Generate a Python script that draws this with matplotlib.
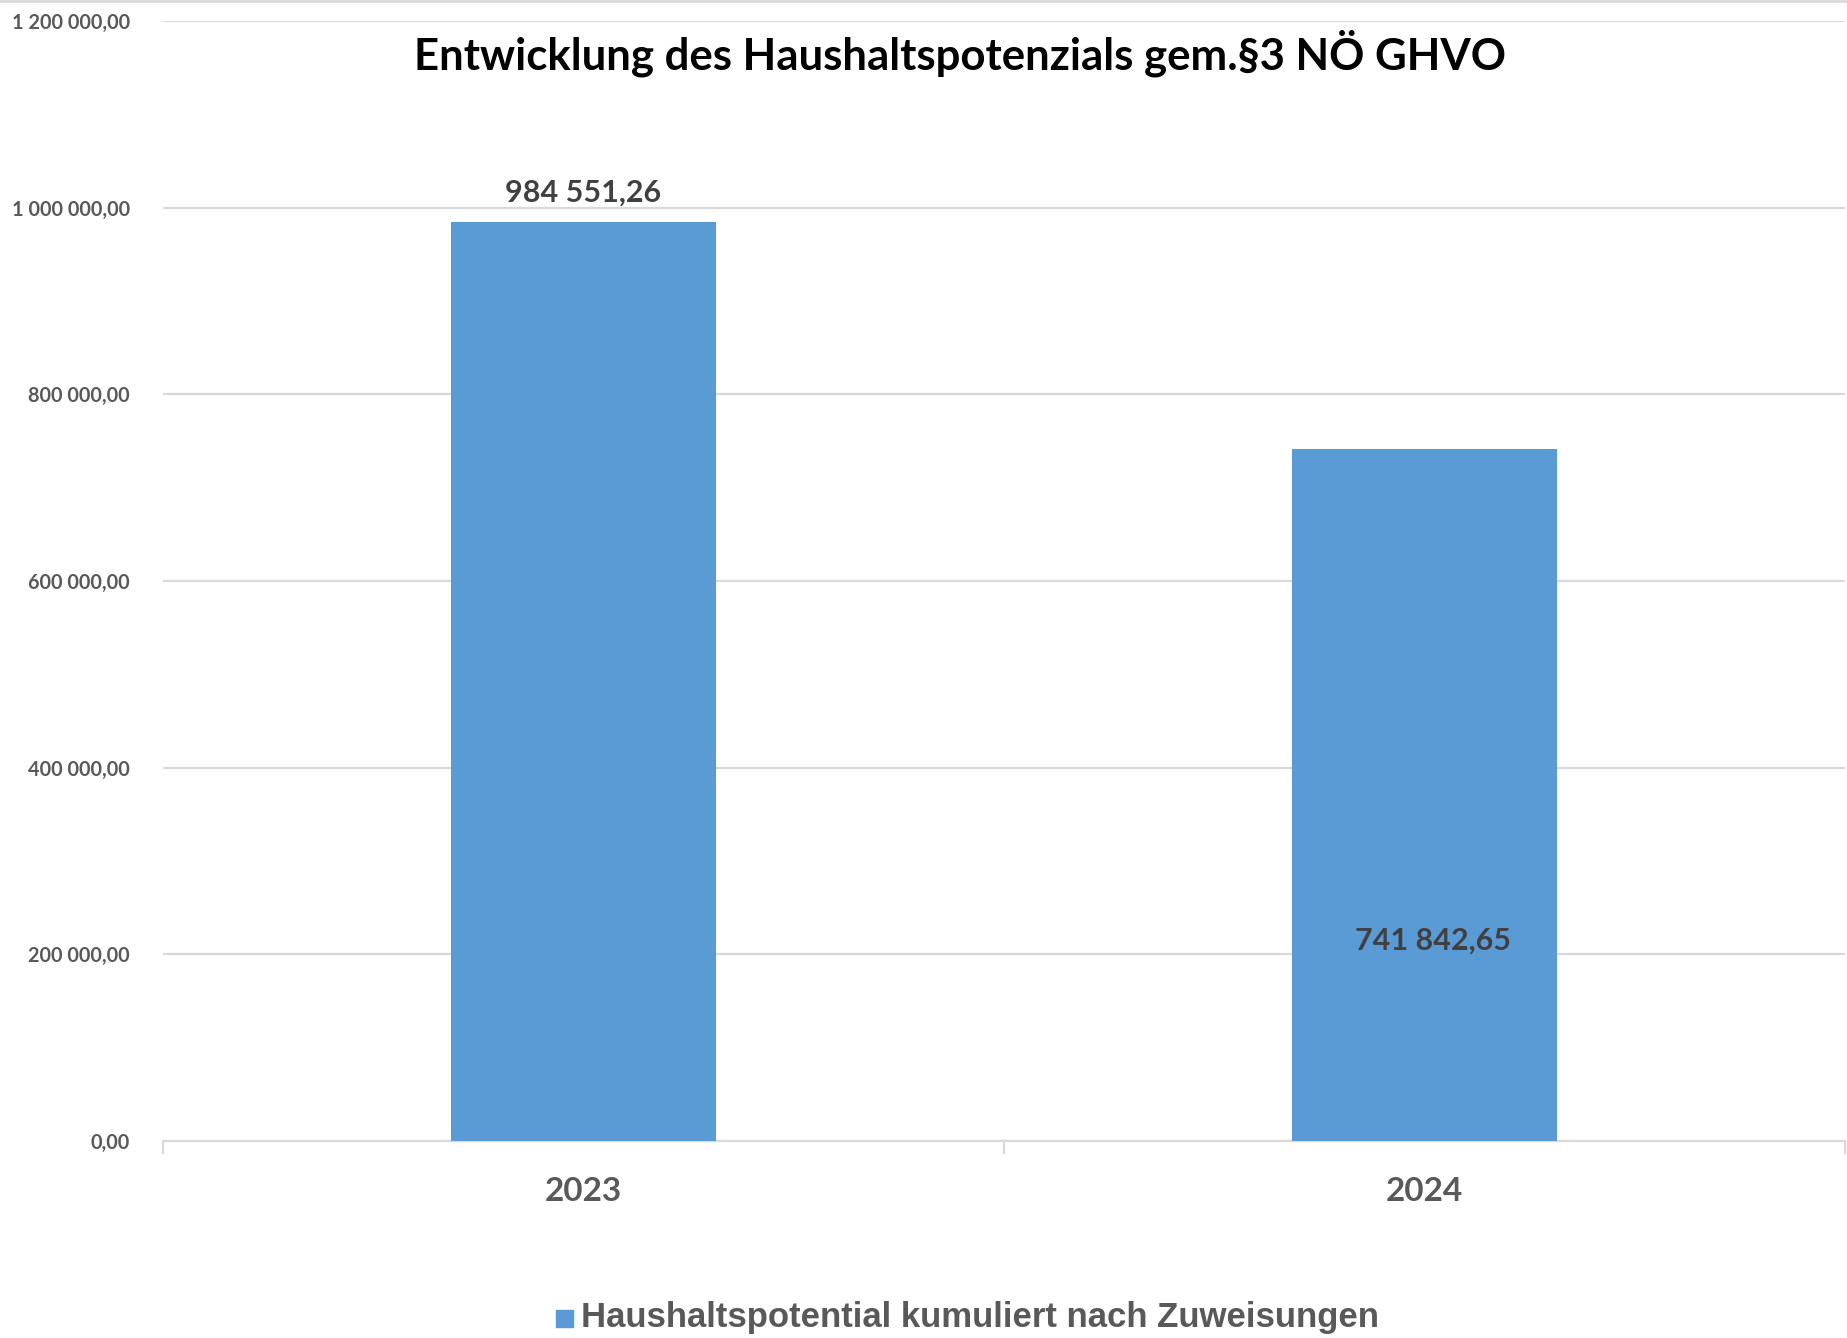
import numpy as np
import matplotlib
matplotlib.use('Agg')
import matplotlib.pyplot as plt
from matplotlib.lines import Line2D
from matplotlib.patches import Rectangle

# Data
years = ['2023', '2024']
values = [984551.26, 741842.65]
label_y = [None, 215000]  # second data label sits inside the bar
series_name = 'Haushaltspotential kumuliert nach Zuweisungen'
title = 'Entwicklung des Haushaltspotenzials gem.§3 NÖ GHVO'
y_ticks = [0, 200000, 400000, 600000, 800000, 1000000, 1200000]

bar_color = '#5B9BD5'
grid_color = '#D9D9D9'
tick_color = '#595959'
label_color = '#404040'


def fmt(v):
    # German style: space as thousands separator, comma as decimal mark
    s = f'{v:,.2f}'
    return s.replace(',', ' ').replace('.', ',')


fig = plt.figure(figsize=(18.47, 13.38), dpi=100)
ax = fig.add_axes([163 / 1847, 1 - 1141 / 1338, 1682 / 1847, 1120 / 1338])

x = np.arange(len(years))
ax.bar(x, values, width=0.314, color=bar_color, zorder=3)

ax.set_xlim(-0.5, 1.5)
ax.set_ylim(0, 1200000)
ax.set_yticks(y_ticks)
ax.set_yticklabels([fmt(v) for v in y_ticks], fontfamily='Lato', fontweight='bold',
                   fontsize=14.3, color=tick_color)
ax.yaxis.grid(True, color=grid_color, linewidth=1.6, zorder=0)
ax.tick_params(axis='y', length=0, pad=24)

ax.set_xticks(x)
ax.set_xticklabels(years, fontfamily='Lato', fontweight='bold', fontsize=24, color=tick_color)
ax.tick_params(axis='x', length=0, pad=26)
# category boundary ticks
for xb in [-0.5, 0.5, 1.5]:
    ax.plot([xb, xb], [0, -0.011], transform=ax.get_xaxis_transform(), color=grid_color,
            linewidth=1.6, clip_on=False)

for s in ['top', 'right', 'left']:
    ax.spines[s].set_visible(False)
ax.spines['bottom'].set_color(grid_color)
ax.spines['bottom'].set_linewidth(1.6)

# data labels
for i, v in enumerate(values):
    if label_y[i] is None:
        ax.annotate(fmt(v), (x[i], v), xytext=(0, 11), textcoords='offset points',
                    ha='center', va='bottom', fontfamily='Lato', fontweight='bold',
                    fontsize=22, color=label_color)
    else:
        ax.text(x[i] + 0.01, label_y[i], fmt(v), ha='center', va='center',
                fontfamily='Lato', fontweight='bold', fontsize=22, color=label_color)

fig.text(0.52, 1 - 53 / 1338, title, ha='center', va='center', fontfamily='Lato',
         fontweight='bold', fontsize=31.5, color='black')

# legend
fig.patches.append(Rectangle((556 / 1847, 1 - 1327 / 1338), 17 / 1847, 17 / 1338,
                             transform=fig.transFigure, color=bar_color))
fig.text(581 / 1847, 1 - 1318 / 1338, series_name, ha='left', va='center',
         fontfamily='Liberation Sans', fontweight='bold', fontsize=25, color=tick_color)

# thin frame line at the very top
fig.add_artist(Line2D([0, 1], [0.999, 0.999], transform=fig.transFigure,
                      color=grid_color, linewidth=2))

fig.savefig('out.png', dpi=100, facecolor='white')
